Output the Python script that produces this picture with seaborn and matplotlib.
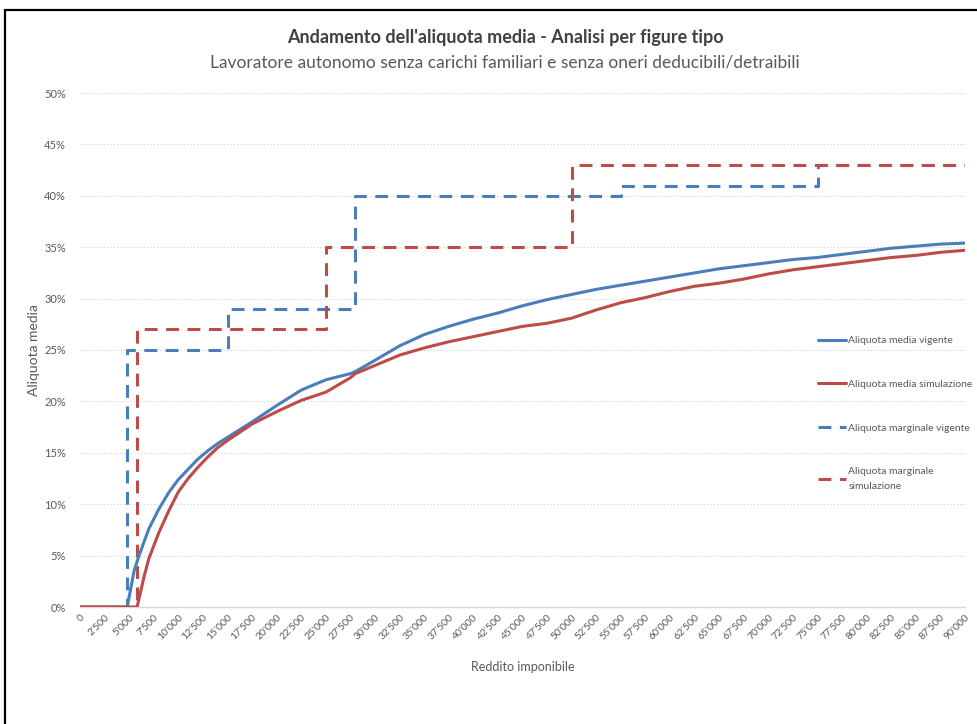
import matplotlib
matplotlib.use("Agg")
import matplotlib.pyplot as plt
import matplotlib.patches as mpatches
import matplotlib.ticker as mticker
import seaborn as sns
import pandas as pd

# ---------------- data ----------------
income_vig = [0, 4800, 5000, 5500, 6000, 7000, 8000, 9000, 10000, 11000, 12000, 13000,
              14000, 15000, 17500, 20000, 22500, 25000, 27500, 28000, 30000, 32500,
              35000, 37500, 40000, 42500, 45000, 47500, 50000, 52500, 55000, 57500,
              60000, 62500, 65000, 67500, 70000, 72500, 75000, 77500, 80000, 82500,
              85000, 87500, 90000]
media_vigente = [0, 0, 1.0, 3.5, 5.0, 7.6, 9.5, 11.1, 12.4, 13.4, 14.4, 15.2,
                 15.9, 16.5, 18.0, 19.6, 21.1, 22.1, 22.7, 22.9, 24.0, 25.4,
                 26.5, 27.3, 28.0, 28.6, 29.3, 29.9, 30.4, 30.9, 31.3, 31.7,
                 32.1, 32.5, 32.9, 33.2, 33.5, 33.8, 34.0, 34.3, 34.6, 34.9,
                 35.1, 35.3, 35.4]

income_sim = [0, 5800, 6000, 6500, 7000, 8000, 9000, 10000, 11000, 12000, 13000,
              14000, 15000, 17500, 20000, 22500, 25000, 27500, 28000, 30000, 32500,
              35000, 37500, 40000, 42500, 45000, 47500, 50000, 52500, 55000, 57500,
              60000, 62500, 65000, 67500, 70000, 72500, 75000, 77500, 80000, 82500,
              85000, 87500, 90000]
media_simulazione = [0, 0, 0.8, 2.9, 4.7, 7.2, 9.3, 11.2, 12.5, 13.6, 14.6,
                     15.5, 16.2, 17.8, 19.0, 20.1, 20.9, 22.3, 22.7, 23.5, 24.5,
                     25.2, 25.8, 26.3, 26.8, 27.3, 27.6, 28.1, 28.9, 29.6, 30.1,
                     30.7, 31.2, 31.5, 31.9, 32.4, 32.8, 33.1, 33.4, 33.7, 34.0,
                     34.2, 34.5, 34.7]

# marginal rates: start of each bracket and rate (%)
marg_vig_x = [0, 4800, 15000, 28000, 55000, 75000, 90000]
marg_vig_y = [0, 25, 29, 40, 41, 43, 43]
marg_sim_x = [0, 5800, 25000, 50000, 90000]
marg_sim_y = [0, 27, 35, 43, 43]

x_ticks = list(range(0, 90001, 2500))
y_ticks = [0, 5, 10, 15, 20, 25, 30, 35, 40, 45, 50]

title = "Andamento dell'aliquota media - Analisi per figure tipo"
subtitle = "Lavoratore autonomo senza carichi familiari e senza oneri deducibili/detraibili"
labels = ["Aliquota media vigente", "Aliquota media simulazione",
          "Aliquota marginale vigente", "Aliquota marginale\nsimulazione"]

# ---------------- style ----------------
sns.set_theme(style="white")
plt.rcParams['font.family'] = ['Lato', 'DejaVu Sans']

BLUE = "#4A7EBB"
RED = "#BE4B48"
GRAY = "#595959"

fig = plt.figure(figsize=(9.77, 7.24), dpi=100)
ax = fig.add_axes([80 / 977, (724 - 607) / 724, (965 - 80) / 977, (607 - 93) / 724])

df_v = pd.DataFrame({"x": income_vig, "y": [v / 100 for v in media_vigente]})
df_s = pd.DataFrame({"x": income_sim, "y": [v / 100 for v in media_simulazione]})
df_mv = pd.DataFrame({"x": marg_vig_x, "y": [v / 100 for v in marg_vig_y]})
df_ms = pd.DataFrame({"x": marg_sim_x, "y": [v / 100 for v in marg_sim_y]})

lw = 2.2
sns.lineplot(data=df_v, x="x", y="y", ax=ax, color=BLUE, lw=lw, label=labels[0],
             estimator=None, zorder=4)
sns.lineplot(data=df_s, x="x", y="y", ax=ax, color=RED, lw=lw, label=labels[1],
             estimator=None, zorder=4)
sns.lineplot(data=df_mv, x="x", y="y", ax=ax, color=BLUE, lw=lw, label=labels[2],
             estimator=None, drawstyle="steps-post", dashes=False, zorder=3)
sns.lineplot(data=df_ms, x="x", y="y", ax=ax, color=RED, lw=lw, label=labels[3],
             estimator=None, drawstyle="steps-post", dashes=False, zorder=3)
lines = ax.get_lines()
lines[2].set_dashes((4.2, 2.8))
lines[3].set_dashes((4.2, 2.8))

ax.set_xlim(0, 90000)
ax.set_ylim(0, 0.5)
ax.set_xticks(x_ticks)
ax.set_xticklabels([f"{t:,}".replace(",", "'") for t in x_ticks], rotation=45,
                   ha="right", rotation_mode="anchor", fontsize=7.5, color=GRAY)
ax.set_yticks([v / 100 for v in y_ticks])
ax.yaxis.set_major_formatter(mticker.FuncFormatter(lambda v, p: f"{v*100:.0f}%"))
ax.tick_params(axis="y", labelsize=8, colors=GRAY, length=0, pad=10)
ax.tick_params(axis="x", length=0, pad=4)

ax.grid(axis="y", color="#D0D0D0", lw=0.8, linestyle=(0, (1, 2)))
ax.grid(axis="x", visible=False)
for s in ["top", "right", "left"]:
    ax.spines[s].set_visible(False)
ax.spines["bottom"].set_color("#D9D9D9")
ax.spines["bottom"].set_linewidth(1.0)
ax.set_axisbelow(True)

ax.set_xlabel("Reddito imponibile", fontsize=9, color=GRAY, labelpad=14)
ax.set_ylabel("Aliquota media", fontsize=10, color=GRAY, labelpad=3)

leg = ax.legend(loc="upper left", bbox_to_anchor=(818 / 977, (724 - 336) / 724),
                bbox_transform=fig.transFigure, frameon=False, fontsize=7.5,
                handlelength=2.7, handletextpad=0.2, labelspacing=3.3,
                borderaxespad=0, borderpad=0)
for t in leg.get_texts():
    t.set_color(GRAY)
leg.get_texts()[3].set_linespacing(1.9)

fig.text(505 / 977, 1 - 38 / 724, title, ha="center", va="center",
         fontsize=13, fontweight="bold", color="#404040")
fig.text(505 / 977, 1 - 62 / 724, subtitle, ha="center", va="center",
         fontsize=12.5, color=GRAY)

# outer frame
fig.patches.append(mpatches.Rectangle((5 / 977, -0.05), 1.2, 1 - 10 / 724 + 0.05,
                                      transform=fig.transFigure, fill=False,
                                      edgecolor="black", lw=1.6))

fig.savefig("out.png", dpi=100)
